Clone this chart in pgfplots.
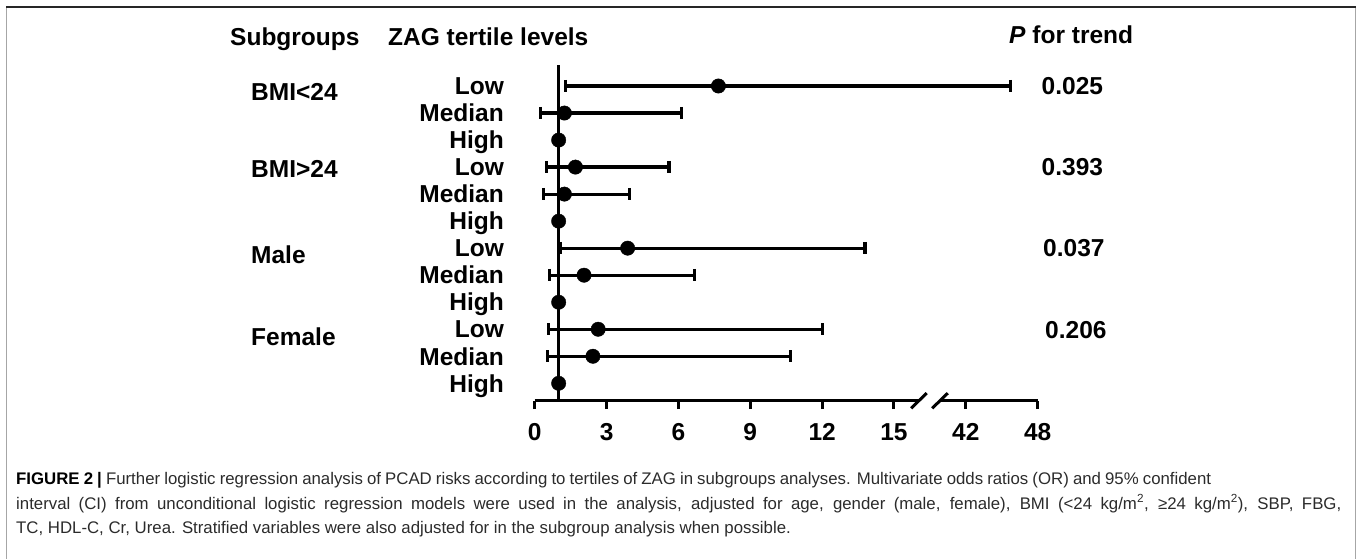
\documentclass[border=0pt]{standalone}
\usepackage{fontspec}
\setmainfont{Liberation Sans}
\usepackage{pgfplots}
\pgfplotsset{compat=1.18}
\newcommand{\bigb}{\fontsize{24.5}{24.5}\selectfont\bfseries}
\newcommand{\capf}{\fontsize{16.8}{16.8}\selectfont}
\definecolor{captxt}{HTML}{2B2B2B}
\begin{document}
\begin{tikzpicture}[x=1pt,y=1pt]
\useasboundingbox (0,0) rectangle (1357,-558);
% frame
\draw[gray!70, line width=1pt] (6.7,-7) -- (6.7,-560);
\draw[gray!70, line width=1pt] (1355.7,-7) -- (1355.7,-560);
\draw[black!85, line width=1.3pt] (6.2,-7) -- (1356.2,-7);
% headers
\node[anchor=base west, inner sep=0] at (230,-45) {\bigb Subgroups};
\node[anchor=base west, inner sep=0] at (388,-45) {\bigb ZAG tertile levels};
\node[anchor=base west, inner sep=0] at (1009,-43.5) {\bigb\textit{P} for trend};
% group labels
\node[anchor=base west, inner sep=0] at (251,-100) {\bigb BMI<24};
\node[anchor=base west, inner sep=0] at (251,-177) {\bigb BMI>24};
\node[anchor=base west, inner sep=0] at (251,-263.5) {\bigb Male};
\node[anchor=base west, inner sep=0] at (251,-345) {\bigb Female};
% level labels
\foreach \i/\t in {0/Low,1/Median,2/High,3/Low,4/Median,5/High,6/Low,7/Median,8/High,9/Low,10/Median,11/High}
  \node[anchor=base east, inner sep=0] at (504,{-(94.7+27.03*\i)}) {\bigb \t};
% p values
\node[anchor=base west, inner sep=0] at (1041.5,-94.7) {\bigb 0.025};
\node[anchor=base west, inner sep=0] at (1041.5,-175.8) {\bigb 0.393};
\node[anchor=base west, inner sep=0] at (1043,-256.9) {\bigb 0.037};
\node[anchor=base west, inner sep=0] at (1045,-338) {\bigb 0.206};
\begin{axis}[
  at={(534.7pt,-400.7pt)}, anchor=south west,
  scale only axis, width=503pt, height=335.7pt,
  clip=false,
  x coord trafo/.code={\pgfmathparse{(#1<30)*(#1/3)+(#1>=30)*(6+(#1-42)/6)}},
  xmin=0, xmax=48, ymin=0.356, ymax=12.777,
  axis x line*=bottom, axis y line=none,
  x axis line style={draw=none},
  xtick={0,3,6,9,12,15,42,48},
  xticklabels={0,3,6,9,12,15,42,48},
  xtick align=outside,
  major tick length=8.5pt,
  tick style={line width=3pt, black},
  xticklabel style={font=\bigb, anchor=base, yshift=-31.5pt},
]
% reference line at OR = 1
\addplot[line width=3.3pt, black] coordinates {(1,0.356) (1,12.777)};
% broken x axis line
\draw[line width=3.3pt] (axis cs:0,0.356) -- (axis cs:16.04,0.356);
\draw[line width=3.3pt] (axis cs:39.84,0.356) -- (axis cs:48,0.356);
\draw[line width=3pt] (axis cs:16.04,0.356) ++(-7.8pt,-7.6pt) -- ++(15.6pt,15.2pt);
\draw[line width=3pt] (axis cs:39.84,0.356) ++(-7.8pt,-7.6pt) -- ++(15.6pt,15.2pt);
% confidence intervals
\pgfplotsset{ci/.style={line width=3.2pt, black, mark=|, mark size=6.2pt}}
\addplot[ci] coordinates {(1.27,12) (45.7,12)};
\addplot[ci] coordinates {(0.25,11) (6.13,11)};
\addplot[ci] coordinates {(0.50,9) (5.61,9)};
\addplot[ci] coordinates {(0.36,8) (3.95,8)};
\addplot[ci] coordinates {(1.06,6) (13.79,6)};
\addplot[ci] coordinates {(0.63,5) (6.68,5)};
\addplot[ci] coordinates {(0.59,3) (12.0,3)};
\addplot[ci] coordinates {(0.54,2) (10.68,2)};
% point estimates
\addplot[only marks, mark=*, mark size=7.2pt, black] coordinates {
 (7.67,12) (1.24,11) (1,10) (1.70,9) (1.24,8) (1,7)
 (3.88,6) (2.06,5) (1,4) (2.65,3) (2.43,2) (1,1)};
\end{axis}
% caption
\node[anchor=base west, inner sep=0, text=captxt] at (16,-484.5) {\capf\hbox to 1195pt{\textbf{\textcolor{black}{FIGURE 2 |}} Further logistic regression analysis of PCAD risks according to tertiles of ZAG in subgroups analyses. Multivariate odds ratios (OR) and 95\% confident}};
\node[anchor=base west, inner sep=0, text=captxt] at (16,-509) {\capf\hbox to 1325pt{interval (CI) from unconditional logistic regression models were used in the analysis, adjusted for age, gender (male, female), BMI (<24 kg/m\textsuperscript{2}, ≥24 kg/m\textsuperscript{2}), SBP, FBG,}};
\node[anchor=base west, inner sep=0, text=captxt] at (16,-533.5) {\capf TC, HDL-C, Cr, Urea. Stratified variables were also adjusted for in the subgroup analysis when possible.};
\end{tikzpicture}
\end{document}
